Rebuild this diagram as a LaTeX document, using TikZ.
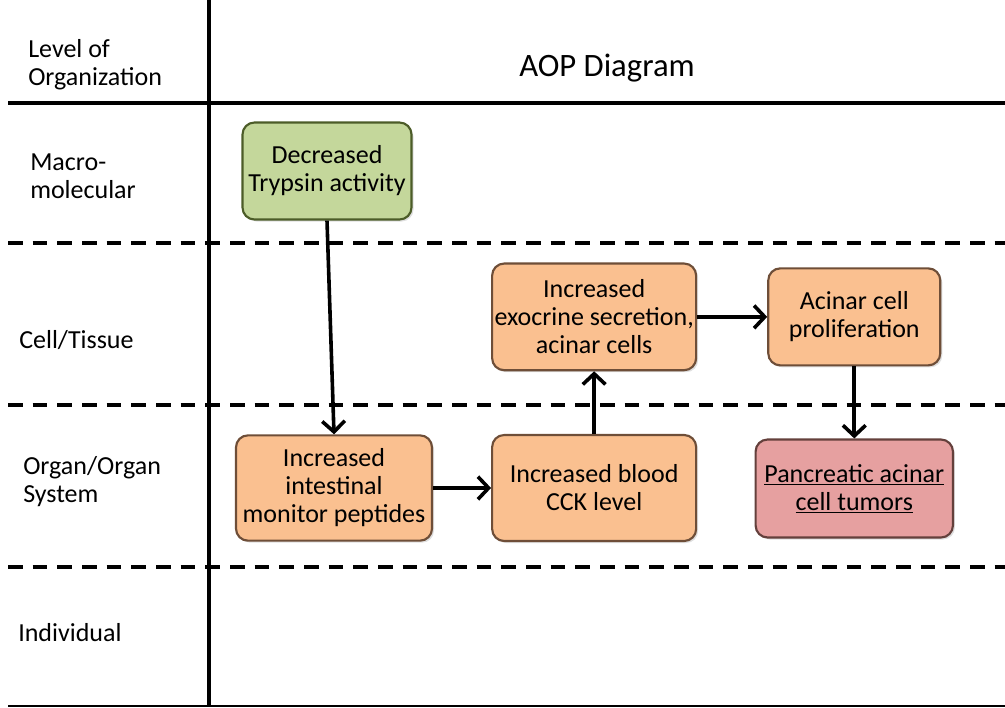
\documentclass[tikz,border=0pt]{standalone}
\usepackage{fontspec}
\setmainfont{Carlito}
\usetikzlibrary{positioning,arrows.meta,shadows}

\definecolor{keFill}{RGB}{250,192,144}
\definecolor{keLine}{RGB}{110,78,56}
\definecolor{mieFill}{RGB}{196,215,155}
\definecolor{mieLine}{RGB}{76,92,40}
\definecolor{aoFill}{RGB}{230,160,160}
\definecolor{aoLine}{RGB}{100,64,60}

\tikzset{
  box/.style={draw, rounded corners=9pt, line width=1.6pt, align=center, inner sep=0pt,
    font=\fontsize{19.5}{21}\selectfont,
    drop shadow={opacity=0.25, shadow xshift=1.5pt, shadow yshift=-1.5pt}},
  ke/.style={box, fill=keFill, draw=keLine},
  mie/.style={box, fill=mieFill, draw=mieLine},
  ao/.style={box, fill=aoFill, draw=aoLine},
  level/.style={anchor=west, align=left, inner sep=0pt, font=\fontsize{19.5}{21}\selectfont},
  band/.style={line width=2.3pt, dash pattern=on 11pt off 7.5pt},
  link/.style={line width=2.7pt, -{Straight Barb[length=8pt,width=17pt,line width=2.7pt]}}
}

\begin{document}
\begin{tikzpicture}[x=0.75pt,y=-0.75pt]
\useasboundingbox (0,0) rectangle (1005,707);

% grid of levels
\coordinate (tl) at (8,103);   \coordinate (tr) at (1005,103);
\coordinate (d1l) at (8,243);  \coordinate (d1r) at (1005,243);
\coordinate (d2l) at (8,405);  \coordinate (d2r) at (1005,405);
\coordinate (d3l) at (8,567);  \coordinate (d3r) at (1005,567);
\coordinate (bl) at (8,706);   \coordinate (br) at (1005,706);
\coordinate (vt) at (209,0);   \coordinate (vb) at (209,707);
\draw[line width=3pt] (tl) -- (tr);
\draw[band] (d1l) -- (d1r);
\draw[band] (d2l) -- (d2r);
\draw[band] (d3l) -- (d3r);
\draw[line width=1.5pt] (bl) -- (br);
\draw[line width=3pt] (vt) -- (vb);

% level names
\node[level] (lvl) at (28,65) {Level of\\Organization};
\node[level] (macro) at (30,176) {Macro-\\molecular};
\node[level] (cell) at (19,340) {Cell/Tissue};
\node[level] (organ) at (23,482) {Organ/Organ\\System};
\node[level] (indiv) at (18,633) {Individual};
\node[font=\fontsize{24.5}{28}\selectfont] (title) at (607,68) {AOP Diagram};

% events
\node[mie, minimum width=126.75pt, minimum height=72.75pt] (try) at (327,171) {Decreased\\Trypsin activity};
\node[ke, minimum width=147pt, minimum height=79pt] (intest) at (334,488) {Increased\\intestinal\\monitor peptides};
\node[ke, minimum width=153pt, minimum height=79.5pt, right=43.5pt of intest] (cck) {Increased blood\\CCK level};
\node[ke, minimum width=153pt, minimum height=80pt, above=47pt of cck] (exo) {Increased\\exocrine secretion,\\acinar cells};
\node[ke, minimum width=129pt, minimum height=72.75pt, right=52.5pt of exo] (prolif) {Acinar cell\\proliferation};
\node[ao, minimum width=148pt, minimum height=73.5pt, below=54pt of prolif] (tumor) {\underline{Pancreatic acinar}\\\underline{cell tumors}};

% relationships
\draw[link] (try.south) -- (intest.north);
\draw[link] (intest.east) -- (cck.west);
\draw[link] (cck.north) -- (exo.south);
\draw[link] (exo.east) -- (prolif.west);
\draw[link] (prolif.south) -- (tumor.north);
\end{tikzpicture}
\end{document}
